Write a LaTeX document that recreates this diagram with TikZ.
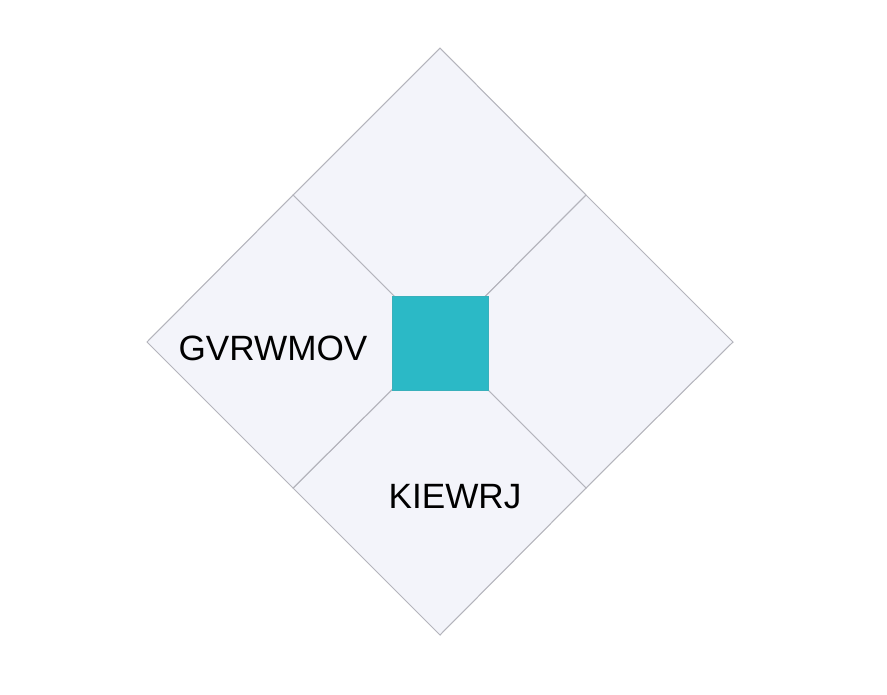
\documentclass[tikz,border=0pt]{standalone}
\usepackage{fontspec}
\setmainfont{Liberation Sans}
\usepackage{xcolor}
\usetikzlibrary{shapes.geometric, positioning, calc}

\definecolor{panelfill}{HTML}{F3F4FA}
\definecolor{panelline}{HTML}{B4B4BC}
\definecolor{coreteal}{HTML}{2BB9C6}

\begin{document}
\begin{tikzpicture}[x=0.03cm, y=-0.03cm]
    % Define styles
    \tikzstyle{panel} = [fill=panelfill, draw=panelline, line width=0.9pt, line join=miter]
    \tikzstyle{core} = [rectangle, fill=coreteal, draw=coreteal!85!gray, minimum width=2.88cm, minimum height=2.82cm, inner sep=0pt]
    \tikzstyle{label} = [font=\fontsize{30}{34}\selectfont, text=black, inner sep=0pt]

    \useasboundingbox (0,0) rectangle (887,695);

    % Corner points
    \coordinate (top) at (440, 48);
    \coordinate (bot) at (440, 635);
    \coordinate (lft) at (147, 342);
    \coordinate (rgt) at (733, 342);
    \coordinate (mid) at (440, 342);
    \coordinate (tl) at (293, 195);
    \coordinate (tr) at (586, 195);
    \coordinate (bl) at (293, 488);
    \coordinate (br) at (586, 488);

    % Panels
    \draw[panel] (top) -- (tr) -- (mid) -- (tl) -- cycle;
    \draw[panel] (tr) -- (rgt) -- (br) -- (mid) -- cycle;
    \draw[panel] (mid) -- (br) -- (bot) -- (bl) -- cycle;
    \draw[panel] (tl) -- (mid) -- (bl) -- (lft) -- cycle;

    % Centre square
    \node[core] (centre) at (440, 343) {};

    % Labels
    \node[label] (left) at (273, 348) {GVRWMOV};
    \node[label] (bottom) at (455, 497) {KIEWRJ};
\end{tikzpicture}
\end{document}
